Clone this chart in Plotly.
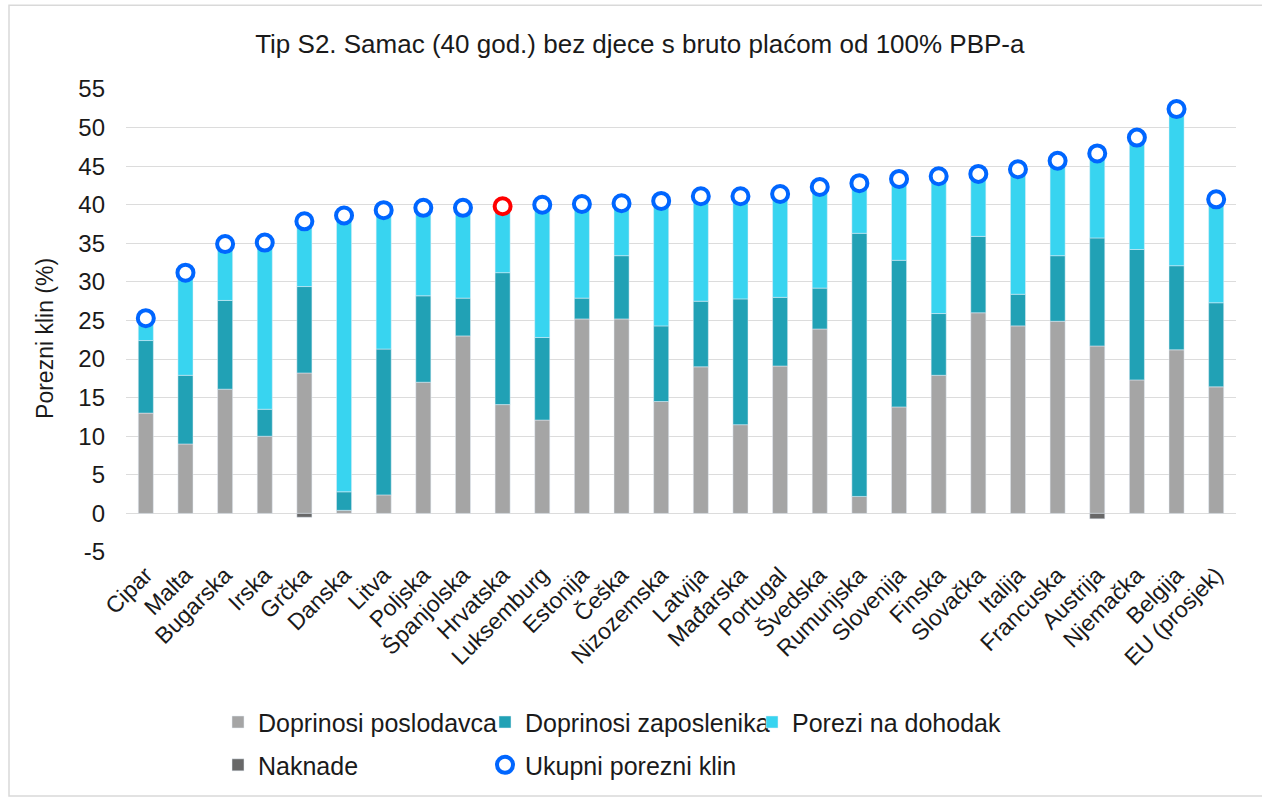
import plotly.graph_objects as go

countries = ["Cipar", "Malta", "Bugarska", "Irska", "Grčka", "Danska", "Litva", "Poljska",
             "Španjolska", "Hrvatska", "Luksemburg", "Estonija", "Češka", "Nizozemska",
             "Latvija", "Mađarska", "Portugal", "Švedska", "Rumunjska", "Slovenija", "Finska",
             "Slovačka", "Italija", "Francuska", "Austrija", "Njemačka", "Belgija", "EU (prosjek)"]

employer = [13.0, 9.0, 16.1, 10.0, 18.2, 0.4, 2.4, 17.0, 23.0, 14.1, 12.1, 25.2, 25.2, 14.5,
            19.0, 11.5, 19.1, 23.9, 2.2, 13.8, 17.9, 26.0, 24.3, 24.9, 21.7, 17.3, 21.2, 16.4]
employee = [9.4, 8.9, 11.5, 3.5, 11.2, 2.4, 18.9, 11.2, 4.9, 17.1, 10.7, 2.7, 8.2, 9.8,
            8.5, 16.3, 8.9, 5.3, 34.1, 19.0, 8.0, 9.9, 4.1, 8.5, 14.0, 16.9, 10.9, 10.9]
income_tax = [2.9, 13.3, 7.3, 21.6, 9.0, 35.8, 18.0, 11.4, 11.7, 8.6, 17.2, 12.2, 6.8, 16.2,
              13.6, 13.3, 13.4, 13.1, 6.5, 10.6, 17.8, 8.1, 16.2, 12.3, 11.7, 14.5, 20.3, 13.4]
benefits = [0, 0, 0, 0, -0.5, 0, 0, 0, 0, 0, 0, 0, 0, 0,
            0, 0, 0, 0, 0, 0, 0, 0, 0, 0, -0.7, 0, 0, 0]
total = [25.3, 31.2, 34.9, 35.1, 37.85, 38.6, 39.3, 39.6, 39.6, 39.8, 40.0, 40.1, 40.2, 40.5,
         41.1, 41.1, 41.4, 42.3, 42.8, 43.35, 43.7, 44.0, 44.6, 45.7, 46.65, 48.7, 52.4, 40.7]

y_tick_vals = [-5, 0, 5, 10, 15, 20, 25, 30, 35, 40, 45, 50, 55]
y_tick_text = ["-5", "0", "5", "10", "15", "20", "25", "30", "35", "40", "45", "50", "55"]

highlight = "Hrvatska"

FONT = "Liberation Sans, Arial, sans-serif"
TXT = "#1a1a1a"
C_EMPLOYER = "#a5a5a5"
C_EMPLOYEE = "#21a1b5"
C_TAX = "#38d4f0"
C_BEN = "#686868"
C_RING = "#0066ff"
C_RED = "#ff0000"

fig = go.Figure()
fig.add_trace(go.Bar(x=countries, y=employer, name="Doprinosi poslodavca",
                     marker_color=C_EMPLOYER, legend="legend"))
fig.add_trace(go.Bar(x=countries, y=employee, name="Doprinosi zaposlenika",
                     marker_color=C_EMPLOYEE, legend="legend"))
fig.add_trace(go.Bar(x=countries, y=income_tax, name="Porezi na dohodak",
                     marker_color=C_TAX, legend="legend"))
fig.add_trace(go.Bar(x=countries, y=benefits, name="Naknade",
                     marker_color=C_BEN, legend="legend2"))
ring_colors = [C_RED if c == highlight else C_RING for c in countries]
fig.add_trace(go.Scatter(x=countries, y=total, name="Ukupni porezni klin", mode="markers",
                         marker=dict(symbol="circle", size=16, color="white",
                                     line=dict(color=ring_colors, width=4)),
                         legend="legend2"))

W, H = 1262, 800
ml, mr, mt, mb = 126, 26, 89, 246
pw, ph = W - ml - mr, H - mt - mb

def px_x(x):
    return (x - ml) / pw

def px_y(y):
    return (H - mb - y) / ph

leg_common = dict(orientation="h", xanchor="left", yanchor="middle",
                  entrywidth=222, entrywidthmode="pixels", traceorder="normal",
                  font=dict(family=FONT, size=25, color=TXT), itemwidth=30,
                  bgcolor="rgba(0,0,0,0)")

fig.update_layout(
    width=W, height=H,
    margin=dict(l=ml, r=mr, t=mt, b=mb),
    barmode="relative",
    bargap=0.62,
    paper_bgcolor="white",
    plot_bgcolor="white",
    font=dict(family=FONT, size=23, color=TXT),
    title=dict(text="Tip S2. Samac (40 god.) bez djece s bruto plaćom od 100% PBP-a",
               x=0.507, xref="container", xanchor="center",
               y=1 - 44 / H, yref="container", yanchor="middle",
               font=dict(family=FONT, size=26, color=TXT)),
    xaxis=dict(tickangle=-45, showgrid=False, showline=False, ticks="",
               range=[-0.5, len(countries) - 0.5], ticklabelstandoff=4,
               tickfont=dict(family=FONT, size=23, color=TXT)),
    yaxis=dict(range=[-5, 55], tickvals=y_tick_vals, ticktext=y_tick_text,
               showgrid=True, gridcolor="#dcdcdc", gridwidth=1.3,
               zeroline=True, zerolinecolor="#dcdcdc", zerolinewidth=1.3,
               showline=False, ticks="", ticklabelstandoff=20,
               tickfont=dict(family=FONT, size=24, color=TXT)),
    legend=dict(x=px_x(218), y=px_y(725), **leg_common),
    legend2=dict(x=px_x(218), y=px_y(768), **leg_common),
    annotations=[dict(text="Porezni klin (%)", textangle=-90, showarrow=False,
                      xref="paper", yref="paper", x=px_x(45), y=px_y(340),
                      xanchor="center", yanchor="middle",
                      font=dict(family=FONT, size=23, color=TXT))],
    shapes=[dict(type="rect", xref="paper", yref="paper",
                 x0=px_x(9), x1=px_x(1264), y0=px_y(799), y1=px_y(5),
                 line=dict(color="#d9d9d9", width=1.5), fillcolor="rgba(0,0,0,0)",
                 layer="below")],
)

fig.write_html("out.html", config={"displayModeBar": False},
               post_script="document.body.style.margin='0';")
